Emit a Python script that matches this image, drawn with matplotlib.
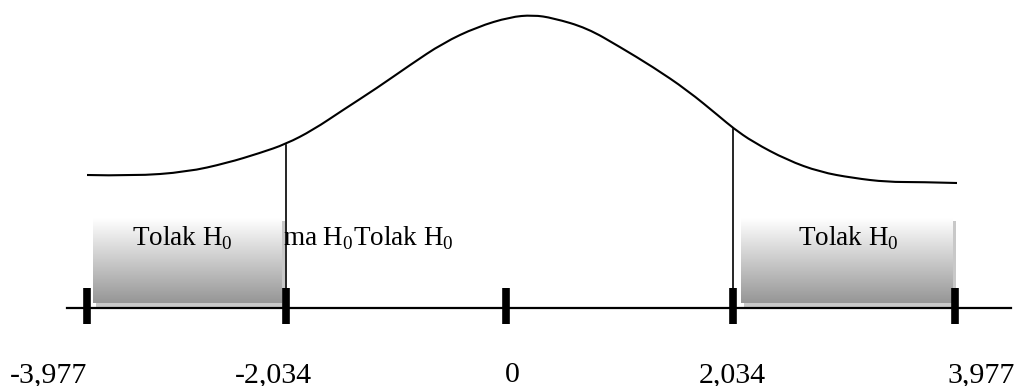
import numpy as np
import matplotlib
matplotlib.use('Agg')
import matplotlib.pyplot as plt
from matplotlib.colors import LinearSegmentedColormap
from matplotlib.patches import Rectangle, PathPatch
from matplotlib.path import Path

# t distribution sketch, drawn in picture units (y grows downwards)
tick_labels = ['-3,977', '-2,034', '0', '2,034', '3,977']
curve_x = [87, 133, 187, 227, 260, 286, 313, 343, 377, 410, 443, 477, 510, 533,
           553, 587, 620, 653, 687, 720, 733, 753, 787, 820, 853, 887, 920, 957]
curve_y = [175, 176, 172, 163, 153, 144, 130, 110, 88, 65, 43, 27, 17, 15,
           18, 28, 47, 67, 90, 117, 128, 142, 160, 172, 178, 182, 182, 183]
region_text = ['Tolak H$_\\mathrm{0}$', 'ma H$_\\mathrm{0}$Tolak H$_\\mathrm{0}$', 'Tolak H$_\\mathrm{0}$']

# layout
tick_x = [87, 286, 506, 733, 955]
label_x = [49, 273, 512, 732, 981]
crit_idx = [5, 20]  # curve points where the critical lines meet the curve
axis_y = 308

plt.rcParams['font.family'] = ['Liberation Serif', 'DejaVu Serif']
plt.rcParams['mathtext.fontset'] = 'custom'
plt.rcParams['mathtext.rm'] = 'Liberation Serif'

fig = plt.figure(figsize=(10.19, 3.86), dpi=100)
ax = fig.add_axes([0, 0, 1, 1])
ax.set_xlim(0, 1019)
ax.set_ylim(386, 0)
ax.axis('off')

grad = LinearSegmentedColormap.from_list('g', ['#ffffff', '#969696'])
boxes = [(93, 282), (741, 953)]
for x0, x1 in boxes:
	ax.add_patch(Rectangle((x0 + 3, 221), x1 - x0, 86, color='#c8c8c8', lw=0, zorder=1))
	ax.imshow(np.linspace(0, 1, 200).reshape(-1, 1), cmap=grad, aspect='auto',
	          extent=[x0, x1, 303, 218], zorder=2)

# smooth the sketched curve with quadratic bezier segments
pts = np.column_stack([curve_x, curve_y]).astype(float)
verts = [pts[0]]
codes = [Path.MOVETO]
for i in range(1, len(pts) - 1):
	end = pts[-1] if i == len(pts) - 2 else (pts[i] + pts[i + 1]) / 2
	verts += [pts[i], end]
	codes += [Path.CURVE3, Path.CURVE3]
ax.add_patch(PathPatch(Path(verts, codes), fill=False, ec='black', lw=1.5, zorder=3))

for i in crit_idx:
	ax.plot([curve_x[i], curve_x[i]], [curve_y[i] + 1, axis_y], color='black', lw=1.2, zorder=3)

ax.plot([67, 1011], [axis_y, axis_y], color='black', lw=1.6, zorder=4)
for x in tick_x:
	ax.plot([x, x], [288, 324], color='black', lw=5.5, solid_capstyle='butt', zorder=5)

for x, s in zip(label_x, tick_labels):
	ax.text(x, 382, s, fontsize=21.5, ha='center', va='baseline')

ax.text(182, 246, region_text[0], fontsize=19.5, ha='center', va='baseline', zorder=6)
ax.text(283, 246, region_text[1], fontsize=19.5, ha='left', va='baseline', zorder=2.5)
ax.text(848, 246, region_text[2], fontsize=19.5, ha='center', va='baseline', zorder=6)

fig.savefig('out.png', dpi=100)
